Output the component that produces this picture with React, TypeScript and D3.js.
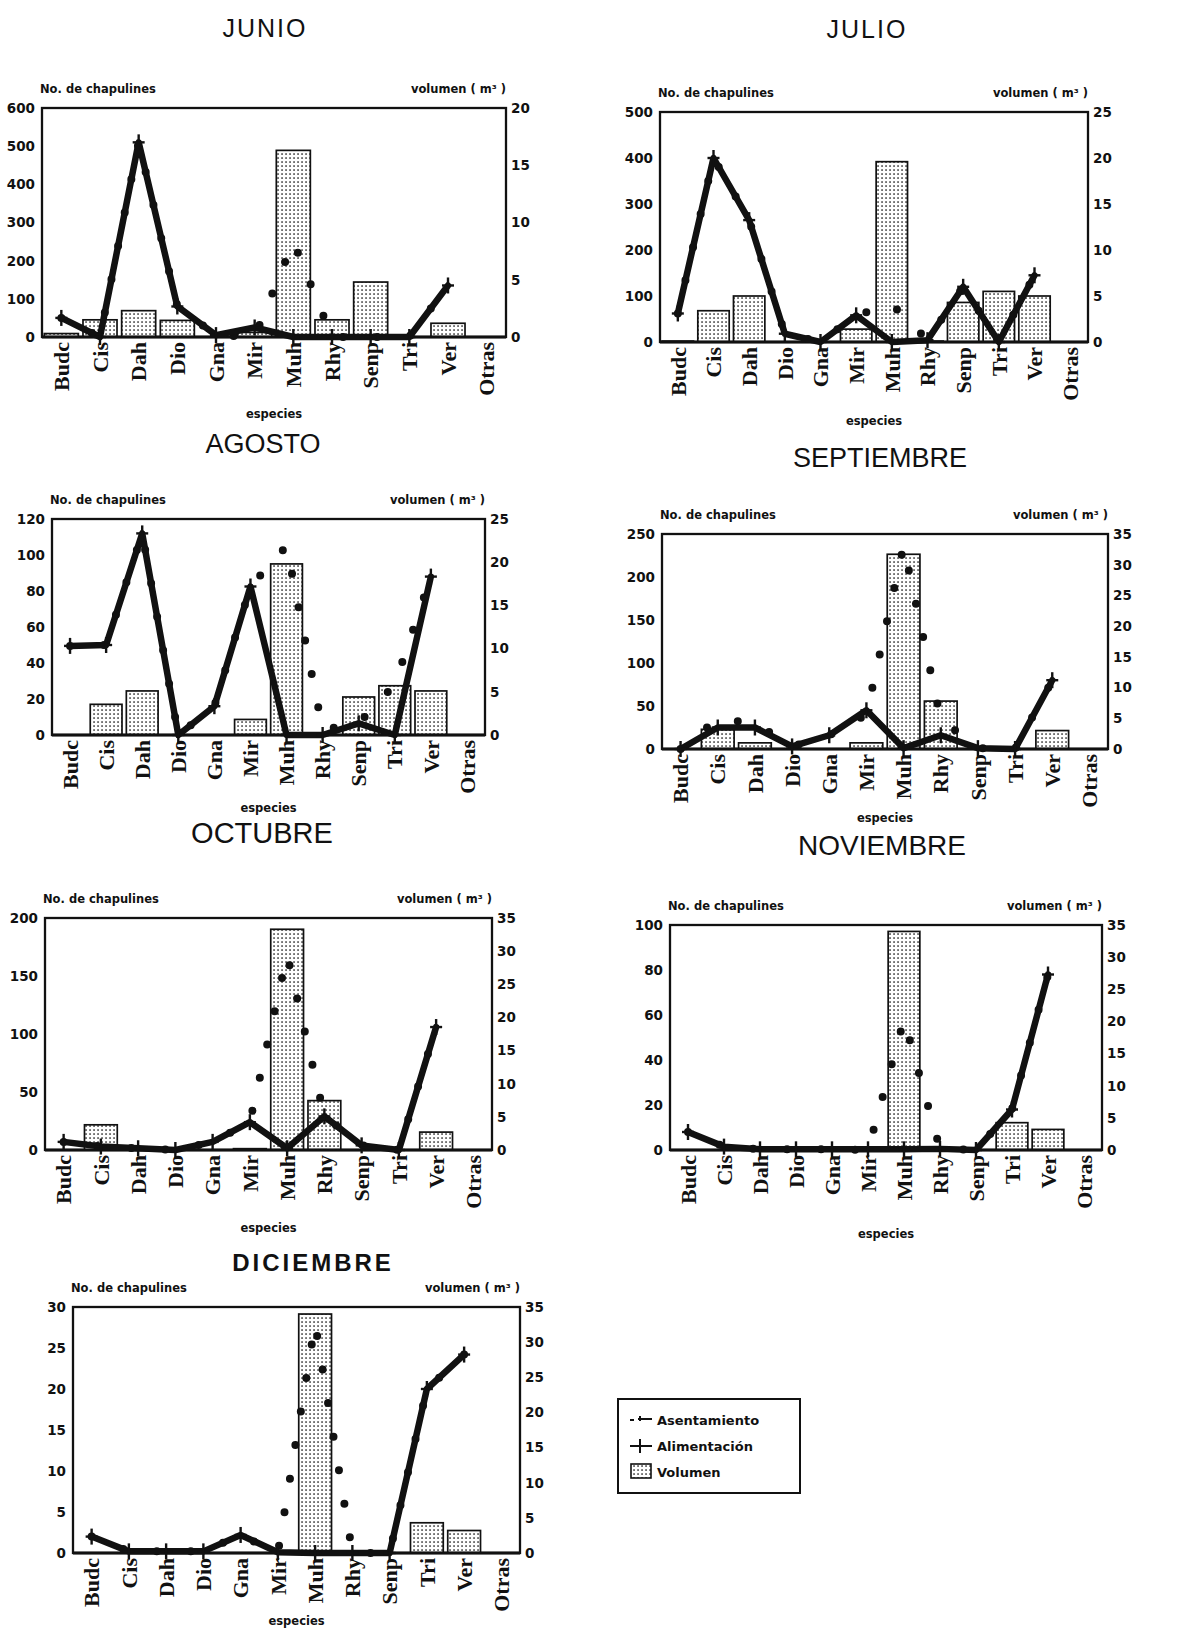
import React from "react";
import * as d3 from "d3";

// ---------- data ----------
const categories = ["Budc", "Cis", "Dah", "Dio", "Gna", "Mir", "Muh", "Rhy", "Senp", "Tri", "Ver", "Otras"];

const junioAlim = [50, 0, 510, 80, 5, 25, 0, 0, 0, 0, 135, null];
const junioAsent = [50, 0, 510, 80, 5, 0, 250, 0, 0, 0, 135, null];
const junioVol = [0.3, 1.5, 2.3, 1.45, 0, 0.4, 16.3, 1.5, 4.8, 0, 1.2, 0];
const junioLeftTicks = [0, 100, 200, 300, 400, 500, 600];
const junioRightTicks = [0, 5, 10, 15, 20];

const julioAlim = [62, 400, 265, 18, 0, 58, 0, 4, 120, 0, 145, null];
const julioAsent = [62, 400, 265, 18, 0, 58, 82, 4, 120, 0, 145, null];
const julioVol = [0.1, 3.4, 5.0, 0, 0, 1.4, 19.6, 0.1, 4.3, 5.5, 5.0, 0];
const julioLeftTicks = [0, 100, 200, 300, 400, 500];
const julioRightTicks = [0, 5, 10, 15, 20, 25];

const agostoAlim = [49.5, 50, 112, 0, 16, 82.5, 0, 0, 6.5, 0, 88, null];
const agostoAsent = [49.5, 50, 112, 0, 16, 82.5, 105, 3, 6.5, 28, 88, null];
const agostoVol = [0, 3.55, 5.1, 0, 0, 1.8, 19.8, 0, 4.4, 5.7, 5.1, 0];
const agostoLeftTicks = [0, 20, 40, 60, 80, 100, 120];
const agostoRightTicks = [0, 5, 10, 15, 20, 25];

const septAlim = [0, 25, 25, 3, 16, 45, 1, 16, 1, 0, 80, null];
const septAsent = [0, 35, 30, 3, 16, 40, 236, 35, 1, 0, 80, null];
const septVol = [0, 3.2, 1.0, 0, 0, 1.0, 31.7, 7.8, 0, 0, 3.0, 0];
const septLeftTicks = [0, 50, 100, 150, 200, 250];
const septRightTicks = [0, 5, 10, 15, 20, 25, 30, 35];

const octAlim = [7, 3, 1.5, 0, 7, 24, 1.5, 29, 4, 0, 106, null];
const octAsent = [7, 3, 1.5, 0, 7, 24, 168, 29, 4, 0, 106, null];
const octVol = [0, 3.8, 0, 0, 0, 0.2, 33.3, 7.45, 0, 0, 2.7, 0];
const octLeftTicks = [0, 50, 100, 150, 200];
const octRightTicks = [0, 5, 10, 15, 20, 25, 30, 35];

const novAlim = [8, 1.5, 0.3, 0.3, 0.3, 0.3, 0.3, 0.5, 0, 18, 78, null];
const novAsent = [8, 1.5, 0.3, 0.3, 0.3, 0, 58, 0.5, 0, 18, 78, null];
const novVol = [0, 0, 0, 0, 0, 0, 34, 0, 0, 4.25, 3.2, 0];
const novLeftTicks = [0, 20, 40, 60, 80, 100];
const novRightTicks = [0, 5, 10, 15, 20, 25, 30, 35];

const dicAlim = [2, 0.2, 0.2, 0.2, 2.2, 0.1, 0, 0, 0, 20, 24.2, null];
const dicAsent = [2, 0.2, 0.2, 0.2, 2.2, 0, 28, 0, 0, 20, 24.2, null];
const dicVol = [0, 0, 0, 0, 0, 0, 34, 0, 0, 4.3, 3.2, 0];
const dicLeftTicks = [0, 5, 10, 15, 20, 25, 30];
const dicRightTicks = [0, 5, 10, 15, 20, 25, 30, 35];

const legendLabels = ["Asentamiento", "Alimentación", "Volumen"];

// ---------- layout ----------
const panels = [
  { title: "JUNIO", alim: junioAlim, asent: junioAsent, vol: junioVol, lt: junioLeftTicks, rt: junioRightTicks,
    l: 42, r: 506, t: 108, b: 337, tx: 265, ty: 37, ts: 25, tls: 2, tw: 400, ey: 418 },
  { title: "JULIO", alim: julioAlim, asent: julioAsent, vol: julioVol, lt: julioLeftTicks, rt: julioRightTicks,
    l: 660, r: 1088, t: 112, b: 342, tx: 867, ty: 38, ts: 25, tls: 2, tw: 400, ey: 425 },
  { title: "AGOSTO", alim: agostoAlim, asent: agostoAsent, vol: agostoVol, lt: agostoLeftTicks, rt: agostoRightTicks,
    l: 52, r: 485, t: 519, b: 735, tx: 263, ty: 453, ts: 27, tls: 0, tw: 400, ey: 812 },
  { title: "SEPTIEMBRE", alim: septAlim, asent: septAsent, vol: septVol, lt: septLeftTicks, rt: septRightTicks,
    l: 662, r: 1108, t: 534, b: 749, tx: 880, ty: 467, ts: 27, tls: 0, tw: 400, ey: 822 },
  { title: "OCTUBRE", alim: octAlim, asent: octAsent, vol: octVol, lt: octLeftTicks, rt: octRightTicks,
    l: 45, r: 492, t: 918, b: 1150, tx: 262, ty: 843, ts: 29, tls: 0, tw: 400, ey: 1232 },
  { title: "NOVIEMBRE", alim: novAlim, asent: novAsent, vol: novVol, lt: novLeftTicks, rt: novRightTicks,
    l: 670, r: 1102, t: 925, b: 1150, tx: 882, ty: 855, ts: 28, tls: 0, tw: 400, ey: 1238 },
  { title: "DICIEMBRE", alim: dicAlim, asent: dicAsent, vol: dicVol, lt: dicLeftTicks, rt: dicRightTicks,
    l: 73, r: 520, t: 1307, b: 1553, tx: 313, ty: 1271, ts: 24, tls: 3, tw: 700, ey: 1625 },
];

const SANS = "'DejaVu Sans', 'Liberation Sans', sans-serif";
const TITLE = "'Liberation Sans', Arial, sans-serif";
const SERIF = "'Liberation Serif', 'Times New Roman', serif";

function Panel({ p }: { p: any }) {
  const x = d3.scaleBand<string>().domain(categories).range([p.l, p.r]).padding(0);
  const step = x.bandwidth();
  const bw = step * 0.88;
  const cx = (i: number) => (x(categories[i]) as number) + step / 2;
  const yL = d3.scaleLinear().domain([0, p.lt[p.lt.length - 1]]).range([p.b, p.t]);
  const yR = d3.scaleLinear().domain([0, p.rt[p.rt.length - 1]]).range([p.b, p.t]);
  const line = d3
    .line<number | null>()
    .defined((d) => d != null)
    .x((_d, i) => cx(i))
    .y((d) => yL(d as number));
  const alimPath = line(p.alim) || "";
  const asentPath = line(p.asent) || "";
  const mid = (p.l + p.r) / 2;
  return (
    <g>
      <text x={p.tx} y={p.ty} textAnchor="middle" fontFamily={TITLE} fontSize={p.ts} fontWeight={p.tw}
        letterSpacing={p.tls} fill="#111">{p.title}</text>
      <text x={p.l - 2} y={p.t - 15} fontFamily={SANS} fontSize={11.5} fontWeight={700} fill="#111">No. de chapulines</text>
      <text x={p.r} y={p.t - 15} textAnchor="end" fontFamily={SANS} fontSize={11.5} fontWeight={700} fill="#111">volumen ( m³ )</text>
      {/* bars */}
      {p.vol.map((v: number, i: number) =>
        v > 0 ? (
          <rect key={"b" + i} x={cx(i) - bw / 2} y={yR(v)} width={bw} height={p.b - yR(v)}
            fill="url(#dots)" stroke="#111" strokeWidth={1.7} />
        ) : null
      )}
      {/* frame */}
      <rect x={p.l} y={p.t} width={p.r - p.l} height={p.b - p.t} fill="none" stroke="#111" strokeWidth={2.3} />
      <line x1={p.l} x2={p.r} y1={p.b} y2={p.b} stroke="#111" strokeWidth={3} />
      {/* asentamiento dotted */}
      <path d={asentPath} fill="none" stroke="#111" strokeWidth={8} strokeLinecap="round"
        strokeLinejoin="round" strokeDasharray="0 34" />
      {/* alimentacion */}
      <path d={alimPath} fill="none" stroke="#111" strokeWidth={6.5} strokeLinejoin="round" strokeLinecap="round" />
      {p.alim.map((v: number | null, i: number) =>
        v == null ? null : (
          <g key={"m" + i} transform={`translate(${cx(i)},${yL(v)})`} stroke="#111" strokeWidth={2.4}>
            <line x1={-6} x2={6} y1={0} y2={0} />
            <line x1={0} x2={0} y1={-8} y2={8} />
          </g>
        )
      )}
      {/* left ticks */}
      {p.lt.map((tv: number) => (
        <text key={"l" + tv} x={p.l - 7} y={yL(tv)} dy="0.36em" textAnchor="end" fontFamily={SANS}
          fontSize={13.5} fontWeight={700} fill="#111">{tv}</text>
      ))}
      {p.rt.map((tv: number) => (
        <text key={"r" + tv} x={p.r + 5} y={yR(tv)} dy="0.36em" textAnchor="start" fontFamily={SANS}
          fontSize={13.5} fontWeight={700} fill="#111">{tv}</text>
      ))}
      {/* category labels */}
      {categories.map((c, i) => (
        <text key={"c" + c} transform={`translate(${cx(i)},${p.b + 5}) rotate(-90)`} dy="0.35em"
          textAnchor="end" fontFamily={SERIF} fontSize={22} fontWeight={700} fill="#111">{c}</text>
      ))}
      <text x={mid} y={p.ey} textAnchor="middle" fontFamily={SANS} fontSize={11.5} fontWeight={700} fill="#111">especies</text>
    </g>
  );
}

function Legend() {
  const lx = 618, ly = 1399, lw = 182, lh = 94;
  const rows = [1425, 1451, 1477];
  return (
    <g>
      <rect x={lx} y={ly} width={lw} height={lh} fill="white" stroke="#111" strokeWidth={2} />
      {/* Asentamiento symbol */}
      <line x1={630} x2={634} y1={rows[0] - 5} y2={rows[0] - 5} stroke="#111" strokeWidth={2} />
      <line x1={638} x2={652} y1={rows[0] - 6} y2={rows[0] - 6} stroke="#111" strokeWidth={2} />
      <line x1={640} x2={640} y1={rows[0] - 9} y2={rows[0] - 4} stroke="#111" strokeWidth={2} />
      {/* Alimentacion symbol */}
      <line x1={630} x2={652} y1={rows[1] - 5} y2={rows[1] - 5} stroke="#111" strokeWidth={2} />
      <line x1={640} x2={640} y1={rows[1] - 12} y2={rows[1] + 2} stroke="#111" strokeWidth={2} />
      {/* Volumen symbol */}
      <rect x={631} y={rows[2] - 13} width={20} height={14} fill="url(#dots)" stroke="#111" strokeWidth={1.6} />
      {legendLabels.map((s, i) => (
        <text key={s} x={657} y={rows[i]} fontFamily={SANS} fontSize={13} fontWeight={700} fill="#111">{s}</text>
      ))}
    </g>
  );
}

export default function App() {
  return (
    <svg width={1191} height={1636} style={{ position: "absolute", left: 0, top: 0, background: "white" }}
      xmlns="http://www.w3.org/2000/svg">
      <defs>
        <pattern id="dots" width={4} height={4} patternUnits="userSpaceOnUse">
          <rect width={4} height={4} fill="white" />
          <rect x={1.3} y={1.3} width={1.5} height={1.5} fill="#222" />
        </pattern>
      </defs>
      <rect width={1191} height={1636} fill="white" />
      {panels.map((p) => (
        <Panel key={p.title} p={p} />
      ))}
      <Legend />
    </svg>
  );
}
